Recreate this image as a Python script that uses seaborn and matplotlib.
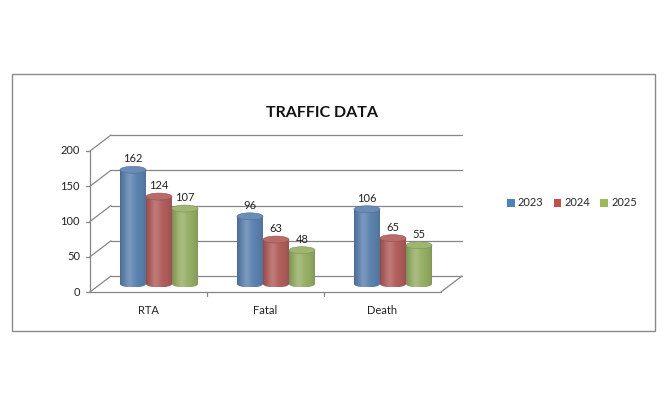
import numpy as np
import pandas as pd
import matplotlib
matplotlib.use("Agg")
import matplotlib.pyplot as plt
import matplotlib.transforms as mtransforms
from matplotlib.patches import Rectangle, Ellipse, PathPatch
from matplotlib.path import Path
import matplotlib.colors as mcolors
import seaborn as sns

categories = ["RTA", "Fatal", "Death"]
years = ["2023", "2024", "2025"]
v2023 = [162, 96, 106]
v2024 = [124, 63, 65]
v2025 = [107, 48, 55]
yticks = [0, 50, 100, 150, 200]
colors = ["#4F81BD", "#C0504D", "#9BBB59"]

df = pd.DataFrame({
    "category": categories * 3,
    "year": [years[0]] * 3 + [years[1]] * 3 + [years[2]] * 3,
    "value": v2023 + v2024 + v2025,
})

sns.set_theme(style="white")
plt.rcParams["font.family"] = ["Lato", "DejaVu Sans"]

W, H = 667, 408
fs = 8
fig = plt.figure(figsize=(W / 100, H / 100), dpi=100)
ax = fig.add_axes([100.5 / W, 1 - 284 / H, 351 / W, 141 / H])

sns.barplot(data=df, x="category", y="value", hue="year", palette=colors,
            width=0.667, errorbar=None, legend=False, ax=ax, zorder=3)

ax.set_xlim(-0.5, 2.5)
ax.set_ylim(0, 200)
for s in ax.spines.values():
    s.set_visible(False)
ax.set_xticks([])
ax.set_yticks([])
ax.set_xlabel("")
ax.set_ylabel("")
ax.patch.set_alpha(0)

front = mtransforms.ScaledTranslation(-10.5 / 100, -8 / 100, fig.dpi_scale_trans)
back = mtransforms.ScaledTranslation(10.5 / 100, 8 / 100, fig.dpi_scale_trans)
yax = ax.get_yaxis_transform()
xax = ax.get_xaxis_transform()
gc = "#868686"
lw = 0.9
inv = fig.transFigure.inverted()

for t in yticks:
    ax.plot([0, 1], [t, t], transform=yax + back, color=gc, lw=lw, zorder=1, clip_on=False)
    p1 = inv.transform((yax + front).transform((0, t)))
    p2 = inv.transform((yax + back).transform((0, t)))
    fig.add_artist(plt.Line2D([p1[0], p2[0]], [p1[1], p2[1]], color=gc, lw=lw, zorder=1))
    fig.add_artist(plt.Line2D([p1[0] - 4 / W, p1[0]], [p1[1], p1[1]], color=gc, lw=lw))
    fig.text(p1[0] - 10 / W, p1[1], str(t), ha="right", va="center", fontsize=fs, color="#222222")
a = inv.transform((yax + front).transform((0, 0)))
b = inv.transform((yax + front).transform((0, 200)))
fig.add_artist(plt.Line2D([a[0], b[0]], [a[1], b[1]], color=gc, lw=lw))
c = inv.transform((yax + front).transform((1, 0)))
d = inv.transform((yax + back).transform((1, 0)))
fig.add_artist(plt.Line2D([a[0], c[0]], [a[1], c[1]], color=gc, lw=lw))
fig.add_artist(plt.Line2D([c[0], d[0]], [c[1], d[1]], color=gc, lw=lw))
for i in range(len(categories) - 1):
    p = inv.transform((xax + front).transform((i + 0.5, 0)))
    fig.add_artist(plt.Line2D([p[0], p[0]], [p[1], p[1] - 4 / H], color=gc, lw=lw))
for i, cat in enumerate(categories):
    p = inv.transform((xax + front).transform((i, 0)))
    fig.text(p[0], p[1] - 18 / H, cat, ha="center", va="center", fontsize=fs, color="#222222")

# cylinder shading
px_per_unit = 141 / 200
for bar in list(ax.patches):
    x, w, h = bar.get_x(), bar.get_width(), bar.get_height()
    base = np.array(mcolors.to_rgb(bar.get_facecolor()))
    xs = np.linspace(0, 1, 64)
    hl = np.exp(-((xs - 0.35) ** 2) / 0.03)
    dark = 0.8 + 0.2 * np.sin(np.pi * xs) ** 0.5
    img = base[None, :] * dark[:, None]
    img = img + (1 - img) * (0.18 * hl)[:, None]
    img = np.clip(img, 0, 1)[None, :, :]
    eh = 7 / px_per_unit
    bottom_e = Ellipse((x + w / 2, 0), w, eh, transform=ax.transData)
    im = ax.imshow(img, extent=[x, x + w, -eh / 2, h], aspect="auto", zorder=3.5,
                   interpolation="bilinear")
    rect_path = Path.make_compound_path(
        Path([(x, 0), (x + w, 0), (x + w, h), (x, h), (x, 0)], closed=True),
        bottom_e.get_path().transformed(bottom_e.get_patch_transform()))
    clip = PathPatch(rect_path, transform=ax.transData, fc="none", ec="none")
    ax.add_patch(clip)
    im.set_clip_box(fig.bbox)
    im.set_clip_path(clip)
    bar.set_visible(False)
    top = Ellipse((x + w / 2, h), w, eh, transform=ax.transData,
                  fc=np.clip(base + (1 - base) * 0.08, 0, 1), ec=np.clip(base * 0.85, 0, 1),
                  lw=0.4, zorder=3.6)
    ax.add_patch(top)

ax.set_xlim(-0.5, 2.5)
ax.set_ylim(0, 200)

for cont in ax.containers:
    ax.bar_label(cont, padding=4, fontsize=fs, color="#222222", zorder=5)

fig.text(322 / W, 1 - 113 / H, "TRAFFIC DATA", ha="center", va="center",
         fontsize=11.5, fontweight="bold", color="#111111")

handles = [Rectangle((0, 0), 1, 1, fc=c_, ec="none") for c_ in colors]
fig.legend(handles, years, loc="center", bbox_to_anchor=(572 / W, 1 - 203 / H), ncol=3,
           frameon=False, fontsize=fs, handlelength=0.7, handleheight=0.7,
           handletextpad=0.3, columnspacing=0.9)

fig.add_artist(Rectangle((12 / W, 1 - 331 / H), 643 / W, 257 / H, transform=fig.transFigure,
                         fill=False, ec="#8a8a8a", lw=1))

fig.savefig("out.png", dpi=100)
